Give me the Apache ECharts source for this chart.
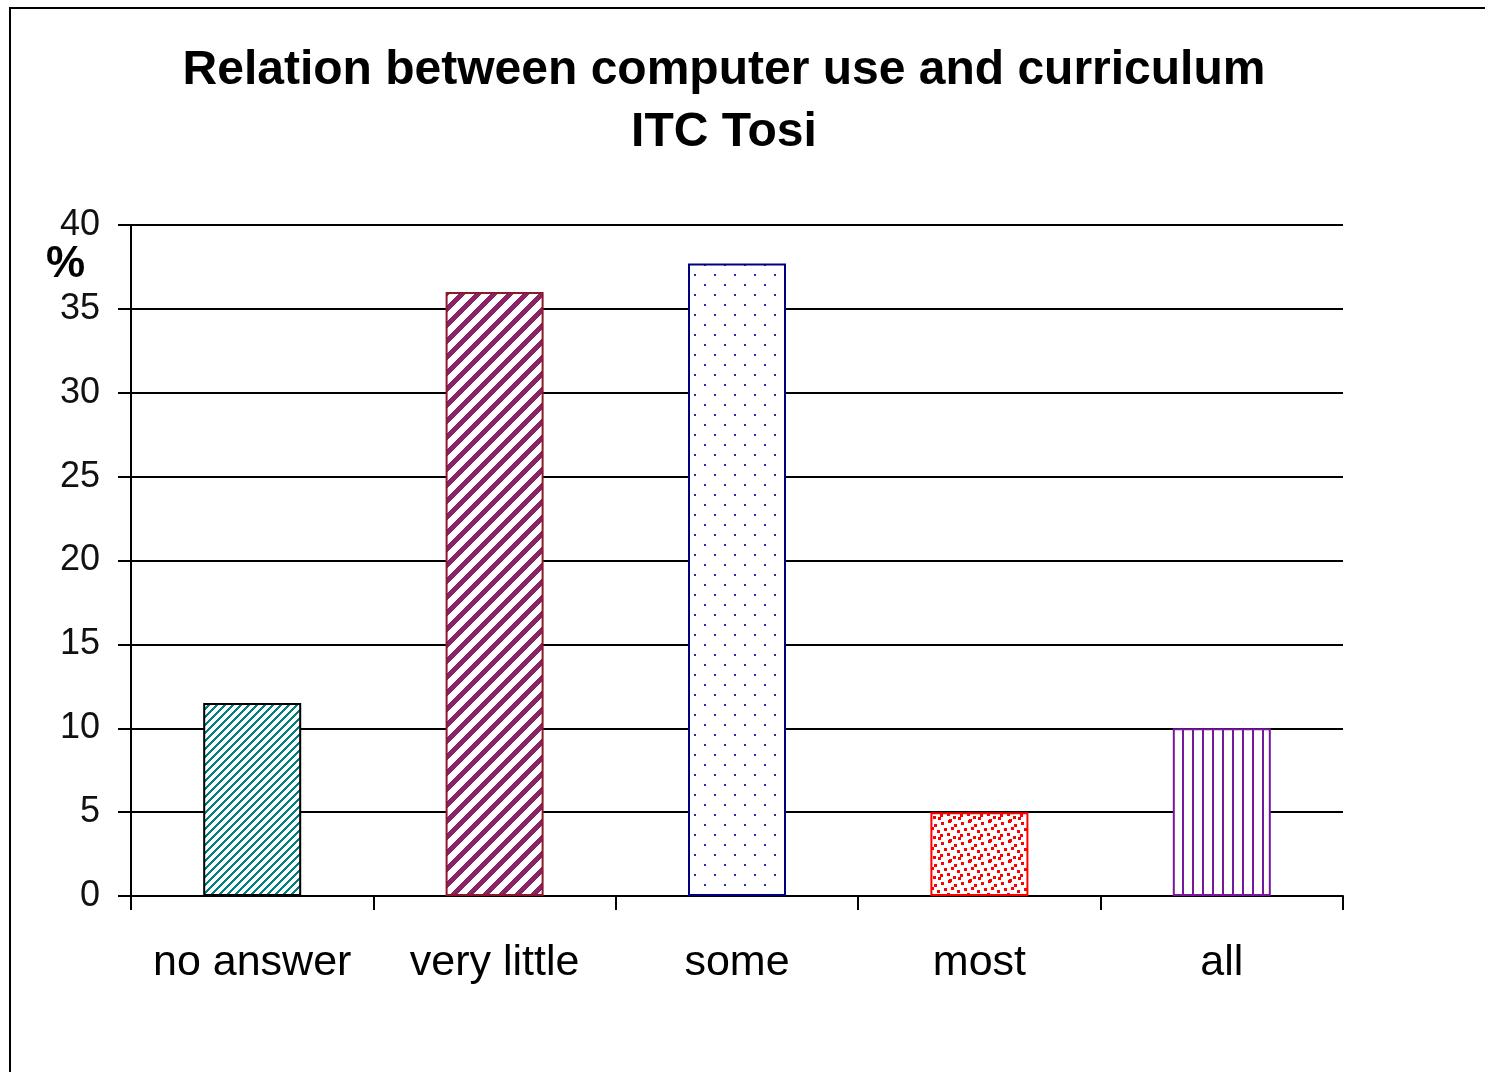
<!DOCTYPE html>
<html>
<head>
<meta charset="utf-8">
<title>Relation between computer use and curriculum</title>
<script src="https://cdn.jsdelivr.net/npm/echarts@6/dist/echarts.min.js"></script>
<style>
html, body { margin: 0; padding: 0; background: #fff; }
#chart { width: 1485px; height: 1072px; }
</style>
</head>
<body>
<div id="chart"></div>
<script>
// data
var categories = ['no answer', 'very little', 'some', 'most', 'all']
var percents = [11.5, 36, 37.7, 5, 10]
var yMin = 0
var yMax = 40
var yStep = 5

var FONT = "'Liberation Sans', Arial, sans-serif"

// small helper: make a tile canvas and hand back a pattern for echarts
function tile (w, h, draw) {
  var c = document.createElement('canvas')
  c.width = w
  c.height = h
  var ctx = c.getContext('2d')
  ctx.fillStyle = '#fff'
  ctx.fillRect(0, 0, w, h)
  draw(ctx)
  return { image: c, repeat: 'repeat' }
}

// "/" stripes
function diagonal (color, period, width) {
  return tile(period, period, function (ctx) {
    ctx.fillStyle = color
    for (var x = 0; x < period; x++) {
      for (var y = 0; y < period; y++) {
        if ((x + y) % period < width) ctx.fillRect(x, y, 1, 1)
      }
    }
  })
}

function dots (color) {
  return tile(20, 20, function (ctx) {
    ctx.fillStyle = color
    ctx.fillRect(4, 4, 2, 2)
    ctx.fillRect(14, 14, 2, 2)
  })
}

function confetti (color) {
  var spots = [[1, 2], [8, 0], [14, 4], [4, 8], [11, 7], [17, 10], [0, 14], [7, 13], [13, 16], [18, 17], [9, 19]]
  return tile(20, 20, function (ctx) {
    ctx.fillStyle = color
    spots.forEach(function (p) {
      for (var dx = 0; dx < 3; dx++) {
        for (var dy = 0; dy < 3; dy++) {
          ctx.fillRect((p[0] + dx) % 20, (p[1] + dy) % 20, 1, 1)
        }
      }
    })
  })
}

function vertical (color) {
  return tile(10, 2, function (ctx) {
    ctx.fillStyle = color
    ctx.fillRect(2, 0, 2, 2)
  })
}

var barStyles = [
  { color: diagonal('#008080', 8, 3), borderColor: '#000', borderWidth: 2 },
  { color: diagonal('#8a2368', 16, 7), borderColor: '#8b1a2a', borderWidth: 2 },
  { color: dots('#2a2ab0'), borderColor: '#000080', borderWidth: 2 },
  { color: confetti('#ff0000'), borderColor: '#ff0000', borderWidth: 2 },
  { color: vertical('#78189c'), borderColor: '#78189c', borderWidth: 2 }
]

var chart = echarts.init(document.getElementById('chart'))

chart.setOption({
  animation: false,
  backgroundColor: '#fff',
  grid: {
    left: 131,
    right: 142,
    top: 225,
    bottom: 176
  },
  xAxis: {
    type: 'category',
    data: categories,
    axisLine: { lineStyle: { color: '#000', width: 2 } },
    axisTick: { show: true, length: 14, lineStyle: { color: '#000', width: 2 } },
    axisLabel: {
      interval: 0,
      margin: 46,
      fontFamily: FONT,
      fontSize: 43,
      lineHeight: 43,
      color: '#000'
    },
    splitLine: { show: false }
  },
  yAxis: {
    type: 'value',
    min: yMin,
    max: yMax,
    interval: yStep,
    axisLine: { show: true, lineStyle: { color: '#000', width: 2 } },
    axisTick: { show: true, length: 13, lineStyle: { color: '#000', width: 2 } },
    axisLabel: {
      margin: 31,
      fontFamily: FONT,
      fontSize: 36,
      color: '#111'
    },
    splitLine: { lineStyle: { color: '#000', width: 2 } }
  },
  graphic: [
    {
      type: 'rect',
      shape: { x: 10, y: 8, width: 1600, height: 1200 },
      style: { fill: 'none', stroke: '#000', lineWidth: 2 },
      silent: true
    },
    // title sits a bit left of the page centre in the original
    {
      type: 'text',
      x: 724,
      y: 40,
      style: {
        text: 'Relation between computer use and curriculum\nITC Tosi',
        font: 'bold 48px ' + FONT,
        lineHeight: 62,
        fill: '#000',
        align: 'center',
        verticalAlign: 'top'
      }
    },
    {
      type: 'text',
      x: 46,
      y: 265,
      style: {
        text: '%',
        font: 'bold 44px ' + FONT,
        fill: '#000',
        align: 'left',
        verticalAlign: 'middle'
      }
    }
  ],
  series: [
    {
      name: 'percent',
      type: 'bar',
      barWidth: 98,
      data: percents.map(function (v, i) {
        return { value: v, itemStyle: barStyles[i] }
      })
    }
  ]
})
</script>
</body>
</html>
